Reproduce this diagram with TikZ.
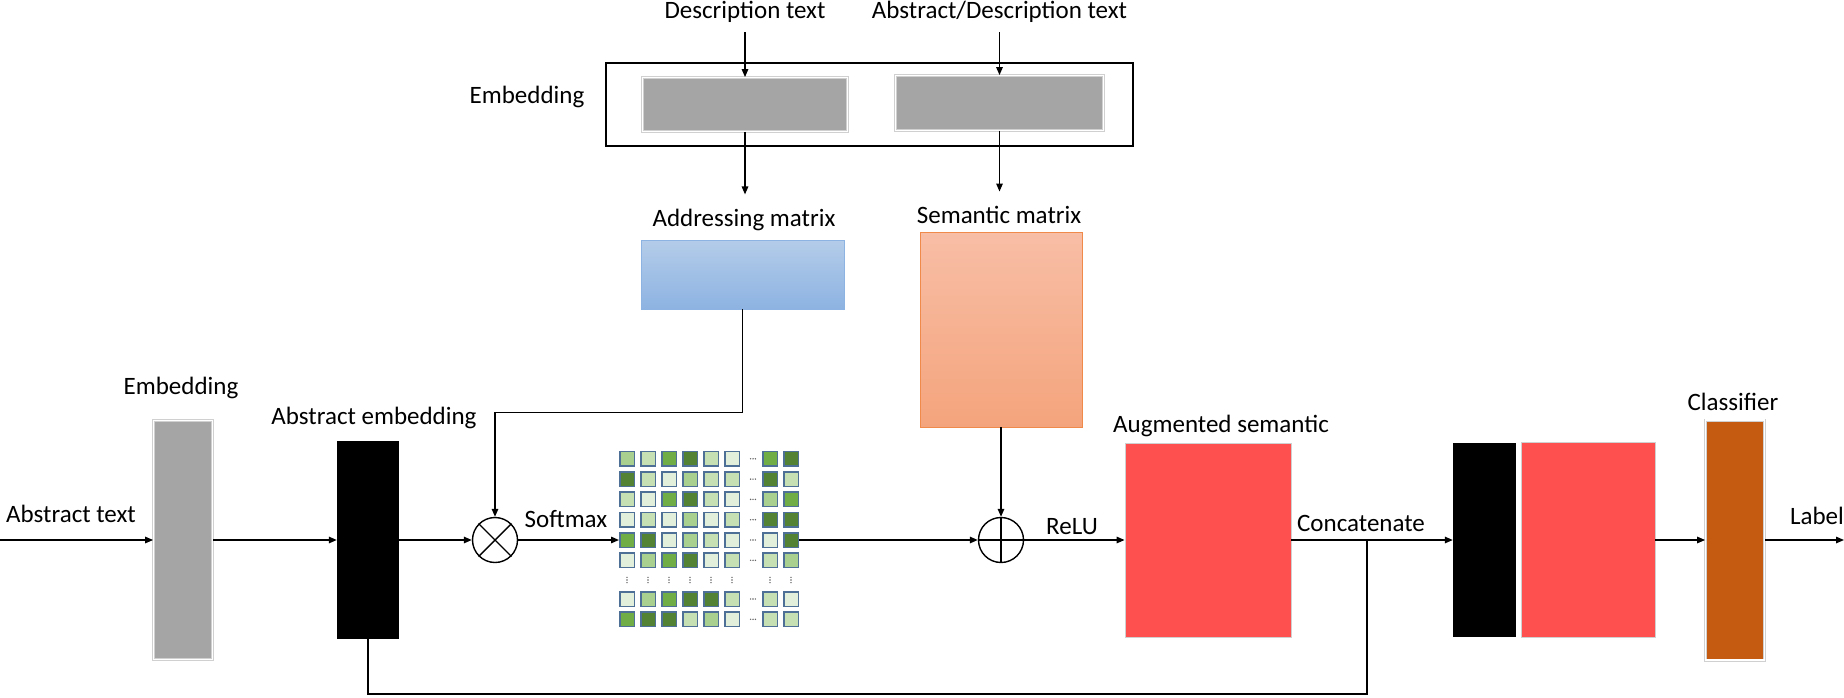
\documentclass[tikz,border=0pt]{standalone}
\usepackage{fontspec}
\setmainfont{Carlito}
\usetikzlibrary{arrows.meta,positioning}
\definecolor{barGray}{HTML}{A5A5A5}
\definecolor{rimGray}{HTML}{D0D0D0}
\definecolor{augRed}{HTML}{FF5050}
\definecolor{clsBrown}{HTML}{C55A11}
\definecolor{addrTop}{HTML}{B4CCE9}
\definecolor{addrBot}{HTML}{8DB3E2}
\definecolor{semTop}{HTML}{F8BEA6}
\definecolor{semBot}{HTML}{F4A47C}
\definecolor{semRim}{HTML}{F08A4B}
\definecolor{cellRim}{HTML}{4F7096}
\definecolor{g1}{HTML}{E2EFDA}
\definecolor{g2}{HTML}{C6E0B4}
\definecolor{g3}{HTML}{A9D08E}
\definecolor{g4}{HTML}{70AD47}
\definecolor{g5}{HTML}{548235}

\begin{document}
\begin{tikzpicture}[x=1pt,y=-1pt,
  lbl/.style={font=\fontsize{25pt}{30pt}\selectfont, inner sep=0pt, anchor=base},
  ln/.style={line width=1.4pt},
  arr/.style={ln, -{Triangle[length=8pt,width=6.5pt]}},
  bar/.style={fill=barGray, draw=rimGray, line width=0.8pt, double=white, double distance=1.4pt, inner sep=0pt},
  blk/.style={inner sep=0pt},
  op/.style={circle, draw, line width=1.4pt, minimum size=45pt, inner sep=0pt},
  cell/.style={draw=cellRim, line width=1.5pt, minimum size=14.5pt, inner sep=0pt}]
  \useasboundingbox (0,0) rectangle (1844,698);

  % top: embedding of the description texts
  \node[draw, line width=1.6pt, blk, minimum width=527pt, minimum height=83pt] (embBox) at (869.5,104.5) {};
  \node[lbl] (embTTxt) at (527,104) {Embedding};
  \node[bar, minimum width=205pt, minimum height=54pt] (descEmb) at (745,104.5) {};
  \node[bar, minimum width=208pt, minimum height=55pt] (absDescEmb) at (999.5,103) {};
  \node[lbl] (descTxt) at (745,19) {Description text};
  \node[lbl] (absDescTxt) at (999.5,19) {Abstract/Description text};
  \node[lbl] (addrTxt) at (744,226) {Addressing matrix};
  \node[lbl] (semTxt) at (999,223) {Semantic matrix};
  \node[blk, top color=addrTop, bottom color=addrBot, draw=addrBot, line width=0.8pt,
        minimum width=203pt, minimum height=69pt] (addr) at (742.5,274.5) {};
  \node[blk, top color=semTop, bottom color=semBot, draw=semRim, line width=0.8pt,
        minimum width=162pt, minimum height=195pt] (sem) at (1001,329.5) {};

  % main row
  \node[lbl] (absTxt) at (71,522) {Abstract text};
  \node[bar, minimum width=59pt, minimum height=239pt] (embL) at (183,540) {};
  \node[lbl] (embLTxt) at (181,394) {Embedding};
  \node[blk, fill=black, minimum width=62pt, minimum height=198pt] (absEmb) at (368,540) {};
  \node[lbl] (absEmbTxt) at (374,424) {Abstract embedding};
  \node[op] (otimes) at (495,540) {};
  \draw[line width=1.4pt] (otimes.north east) -- (otimes.south west)
                          (otimes.north west) -- (otimes.south east);
  \node[lbl] (softTxt) at (566,527) {Softmax};

  % attention matrix
  \foreach \r/\y/\shades in {1/458.8/{3,2,4,5,2,1,4,5}, 2/479.1/{5,2,1,3,2,2,5,2},
      3/499.4/{2,1,4,5,2,1,3,4}, 4/519.7/{1,2,1,3,1,2,5,5}, 5/540/{4,5,1,3,2,1,1,5},
      6/560.3/{1,3,4,5,1,2,2,3}, 7/599/{1,3,4,5,5,2,2,1}, 8/619.3/{4,5,5,2,3,1,2,2}}{
    \foreach \s [count=\c] in \shades {
      \pgfmathsetmacro\cx{{627,648,669,690,711,732,770,791}[\c-1]}
      \node[cell, fill=g\s] (c-\r-\c) at (\cx,\y) {};
    }
    \foreach \d in {-2.4,0,2.4}
      \fill[gray!80!black] (753+\d,\y) circle (0.8pt);
  }
  \foreach \cx in {627,648,669,690,711,732,770,791}
    \foreach \d in {-2.6,0,2.6}
      \fill[gray!80!black] (\cx,580+\d) circle (0.8pt);

  \node[op] (oplus) at (1001,540) {};
  \draw[line width=1.4pt] (oplus.north) -- (oplus.south) (oplus.west) -- (oplus.east);
  \node[lbl] (reluTxt) at (1072,534) {ReLU};
  \node[blk, fill=augRed, draw=rimGray, line width=0.8pt, minimum width=166pt, minimum height=194pt] (aug) at (1208,540) {};
  \node[lbl] (augTxt) at (1221,432) {Augmented semantic};
  \node[lbl] (catTxt) at (1361,531) {Concatenate};
  \node[blk, fill=black, minimum width=63pt, minimum height=194pt] (catA) at (1484.5,540) {};
  \node[blk, fill=augRed, draw=rimGray, line width=0.8pt, minimum width=134pt, minimum height=195pt] (catB) at (1588,540) {};
  \node[bar, fill=clsBrown, minimum width=59pt, minimum height=240pt] (cls) at (1735,540) {};
  \node[lbl] (clsTxt) at (1733,410) {Classifier};
  \node[lbl] (labTxt) at (1817,524) {Label};

  \coordinate (inp) at (0,540);
  \coordinate (outp) at (1844,540);
  \coordinate (jn) at (1367,540);
  \coordinate (lp) at (1367,694);

  % connectors
  \draw[arr, shorten <=9pt] (descEmb.north |- descTxt.south) -- (descEmb.north);
  \draw[arr, shorten <=9pt] (absDescEmb.north |- absDescTxt.south) -- (absDescEmb.north);
  \draw[arr, shorten >=14pt] (descEmb.south) -- (descEmb.south |- addrTxt.north);
  \draw[arr, shorten >=14pt] (absDescEmb.south) -- (absDescEmb.south |- semTxt.north);
  \draw[arr] (addr.south) -- ++(0,103) -| (otimes.north);
  \draw[arr] (sem.south) -- (oplus.north);
  \draw[arr] (inp) -- (embL.west);
  \draw[arr] (embL.east) -- (absEmb.west);
  \draw[arr] (absEmb.east) -- (otimes.west);
  \draw[arr] (otimes.east) -- (c-5-1.west);
  \draw[arr] (c-5-8.east) -- (oplus.west);
  \draw[arr] (oplus.east) -- (aug.west);
  \draw[arr] (aug.east) -- (catA.west);
  \draw[ln] (absEmb.south) |- (lp) -- (jn);
  \draw[arr] (catB.east) -- (cls.west);
  \draw[arr] (cls.east) -- (outp);
\end{tikzpicture}
\end{document}
